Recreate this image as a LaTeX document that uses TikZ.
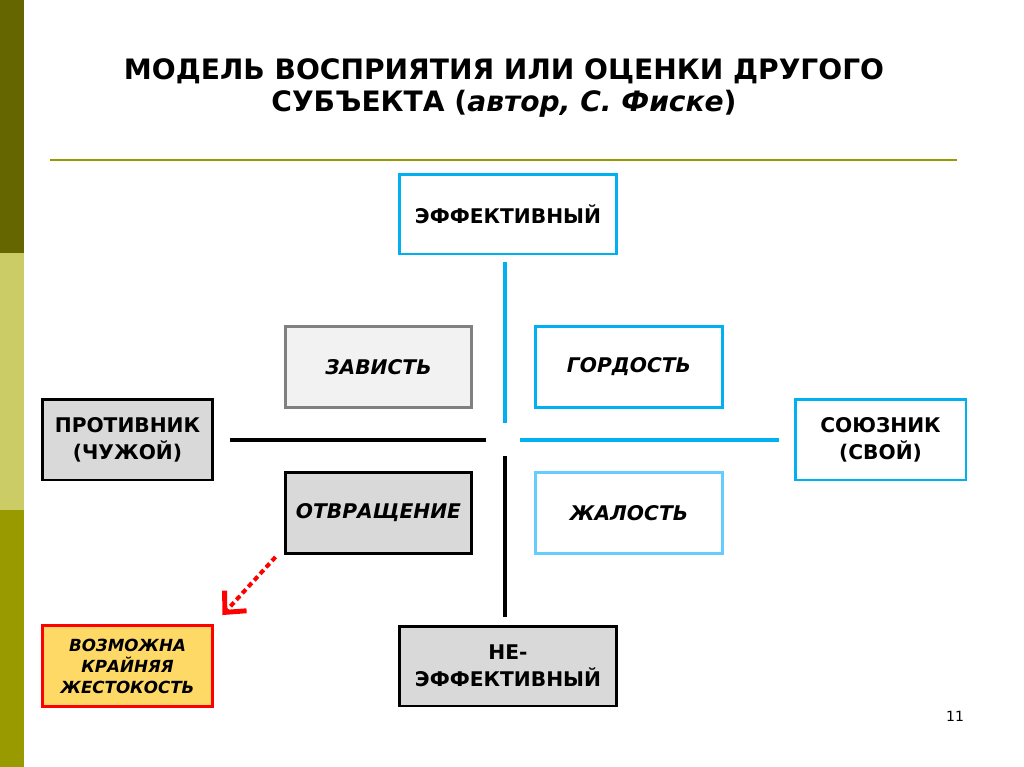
\documentclass[tikz,border=0pt]{standalone}
\usepackage{fontspec}
\setmainfont{DejaVu Sans}
\usetikzlibrary{arrows.meta}

\definecolor{olivedark}{HTML}{666600}
\definecolor{olivelight}{HTML}{CCCC66}
\definecolor{olivemid}{HTML}{999900}
\definecolor{skyblue}{HTML}{00B0F0}
\definecolor{paleblue}{HTML}{66CCFF}
\definecolor{boxgray}{HTML}{D9D9D9}
\definecolor{lightgray}{HTML}{F2F2F2}
\definecolor{warnyellow}{HTML}{FFD966}

\begin{document}
\begin{tikzpicture}[x=0.02cm, y=-0.02cm,
    box/.style={rectangle, inner sep=0pt, align=center, line width=1.7pt,
      font=\fontsize{11.5}{15.5}\selectfont\bfseries},
    wide/.style={box, minimum width=4.36cm, minimum height=1.6cm},
    quad/.style={box, minimum width=3.74cm, minimum height=1.62cm, font=\fontsize{11.5}{15}\selectfont\bfseries\itshape},
    side/.style={box, minimum width=3.42cm, minimum height=1.62cm},
    axis/.style={line width=2.8pt}]
  % slide frame
  \useasboundingbox (0,0) rectangle (1024,767);
  \fill[white] (0,0) rectangle (1024,767);
  % left colour bar
  \fill[olivedark] (0,0) rectangle (24,253);
  \fill[olivelight] (0,253) rectangle (24,510);
  \fill[olivemid] (0,510) rectangle (24,767);

  % title
  \node[font=\fontsize{16}{18}\selectfont\bfseries, align=center] (title) at (504,88)
    {МОДЕЛЬ ВОСПРИЯТИЯ ИЛИ ОЦЕНКИ ДРУГОГО\\СУБЪЕКТА (\textit{автор, С. Фиске})};
  \draw[olivemid, line width=1.2pt] (50,160) -- (957,160);

  % vertical axis ends
  \node[wide, draw=skyblue, fill=white] (eff) at (508,214) {ЭФФЕКТИВНЫЙ};
  \node[wide, draw=black, fill=boxgray] (neff) at (508,666) {НЕ-\\ЭФФЕКТИВНЫЙ};

  % horizontal axis ends
  \node[side, draw=black, fill=boxgray] (enemy) at (127.5,439.5) {ПРОТИВНИК\\(ЧУЖОЙ)};
  \node[side, draw=skyblue, fill=white] (ally) at (880.5,439.5) {СОЮЗНИК\\(СВОЙ)};

  % quadrants
  \node[quad, draw=gray, fill=lightgray] (envy) at (378.5,367) {ЗАВИСТЬ};
  \node[quad, draw=skyblue, fill=white] (pride) at (629,367) {ГОРДОСТЬ};
  \node[quad, draw=black, fill=boxgray] (disgust) at (378.5,513) {ОТВРАЩЕНИЕ};
  \node[quad, draw=paleblue, fill=white] (pity) at (629,513) {ЖАЛОСТЬ};

  % warning box
  \node[box, draw=red, fill=warnyellow, minimum width=3.42cm, minimum height=1.62cm,
    font=\fontsize{9.5}{12}\selectfont\bfseries\itshape] (cruel) at (127.5,666)
    {ВОЗМОЖНА\\КРАЙНЯЯ\\ЖЕСТОКОСТЬ};

  % axes
  \coordinate (up) at (505,262);
  \coordinate (upin) at (505,423);
  \coordinate (downin) at (505,456);
  \coordinate (down) at (505,617);
  \coordinate (leftout) at (230,440);
  \coordinate (leftin) at (486,440);
  \coordinate (rightin) at (520,440);
  \coordinate (rightout) at (779,440);
  \draw[axis, skyblue] (up) -- (upin);
  \draw[axis, black] (downin) -- (down);
  \draw[axis, black] (leftout) -- (leftin);
  \draw[axis, skyblue] (rightin) -- (rightout);

  % arrow to the warning box
  \draw[red, line width=2.3pt, dash pattern=on 3pt off 2pt,
    -{Straight Barb[length=9pt, width=17pt, line width=2.8pt]}]
    ([shift={(-8,2)}]disgust.south west) -- ([shift={(8,-9)}]cruel.north east);

  % page number
  \node[font=\fontsize{8}{10}\selectfont] (page) at (955,716) {11};
\end{tikzpicture}
\end{document}
